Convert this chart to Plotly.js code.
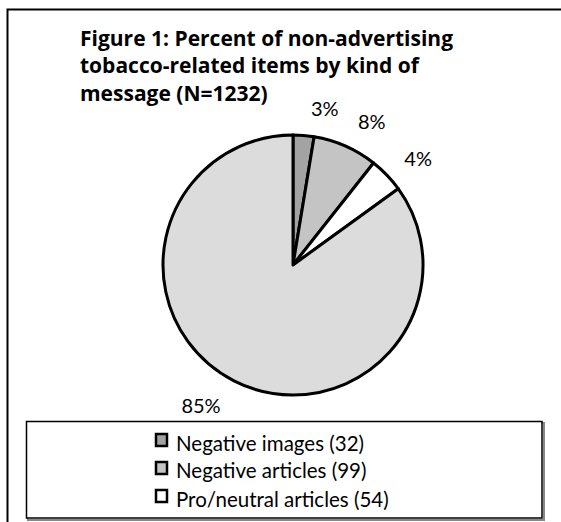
<!DOCTYPE html>
<html>
<head>
<meta charset="utf-8">
<script src="https://cdn.plot.ly/plotly-3.0.1.min.js"></script>
<style>
  html, body { margin: 0; padding: 0; background: #ffffff; overflow: hidden; }
  #chart { width: 561px; height: 522px; }
</style>
</head>
<body>
<div id="chart"></div>
<script>
// ---- data ----
const categories = ["Negative images", "Negative articles", "Pro/neutral articles", "Other items"];
const counts = [32, 99, 54, 1047];
const titleLines = ["Figure 1: Percent of non-advertising", "tobacco-related items by kind of", "message (N=1232)"];
const sliceColors = ["#a3a3a3", "#c4c4c4", "#ffffff", "#dcdcdc"];
const legendShown = 3; // only the first three entries are visible in the legend box

// ---- layout helpers (pixels -> paper) ----
const W = 561, H = 522;
const px = x => x / W;
const py = y => 1 - y / H;
const FONT = "Lato, 'Open Sans', sans-serif";
const CX = 293, CY = 265, R = 130, RT = 146;

// the drawn pie
const pieTrace = {
  type: "pie",
  labels: categories,
  values: counts,
  sort: false,
  direction: "clockwise",
  rotation: 0,
  marker: { colors: sliceColors, line: { color: "#000000", width: 3 } },
  textinfo: "none",
  domain: { x: [px(CX - R), px(CX + R)], y: [py(CY + R), py(CY - R)] },
  showlegend: false,
  hoverinfo: "label+value+percent"
};

// same data, slightly larger and transparent: carries the outside percent labels
// (split into two layers so neighbouring small-slice labels are not pushed apart)
function labelTrace(positions) {
  return {
    type: "pie",
    labels: categories,
    values: counts,
    sort: false,
    direction: "clockwise",
    rotation: 0,
    marker: { colors: categories.map(() => "rgba(0,0,0,0)"), line: { width: 0 } },
    texttemplate: "%{percent:.0%}",
    textposition: positions,
    textfont: { family: FONT, size: 20, color: "#000000" },
    domain: { x: [px(CX - RT), px(CX + RT)], y: [py(CY + RT), py(CY - RT)] },
    showlegend: false,
    hoverinfo: "skip"
  };
}
const labelsA = labelTrace(["outside", "none", "outside", "outside"]);
const labelsB = labelTrace(["none", "outside", "none", "none"]);

const shapes = [];
const annotations = [];

// outer frame (runs off the right and bottom of the picture)
shapes.push({ type: "rect", xref: "paper", yref: "paper", x0: px(7.5), x1: px(620), y0: py(9.5), y1: py(600),
  line: { color: "#000000", width: 2 }, fillcolor: "rgba(0,0,0,0)", layer: "below" });

// legend box with shadow
shapes.push({ type: "rect", xref: "paper", yref: "paper", x0: px(28), x1: px(544), y0: py(423), y1: py(520),
  line: { color: "#888888", width: 2 }, fillcolor: "rgba(0,0,0,0)" });
shapes.push({ type: "rect", xref: "paper", yref: "paper", x0: px(26.5), x1: px(542), y0: py(421.5), y1: py(518),
  line: { color: "#000000", width: 1.5 }, fillcolor: "#ffffff" });

const rowY = [440, 468, 496];
for (let i = 0; i < legendShown; i++) {
  const y = rowY[i];
  shapes.push({ type: "rect", xref: "paper", yref: "paper", x0: px(156), x1: px(167), y0: py(y - 6), y1: py(y + 6),
    line: { color: "#000000", width: 2.5 }, fillcolor: sliceColors[i] });
  annotations.push({ xref: "paper", yref: "paper", x: px(174), y: py(y + 2.5), xanchor: "left", yanchor: "middle",
    showarrow: false, text: categories[i] + " (" + counts[i] + ")",
    font: { family: FONT, size: 20.5, color: "#000000" } });
}

const layout = {
  width: W, height: H,
  margin: { l: 0, r: 0, t: 0, b: 0 },
  paper_bgcolor: "#ffffff",
  plot_bgcolor: "#ffffff",
  title: {
    text: "<b>" + titleLines.join("<br>") + "</b>",
    font: { family: "'Open Sans', Lato, sans-serif", size: 21, color: "#000000" },
    x: px(80), xanchor: "left", xref: "paper",
    y: py(46), yanchor: "top", yref: "container"
  },
  shapes: shapes,
  annotations: annotations
};

Plotly.newPlot("chart", [pieTrace, labelsA, labelsB], layout, { displayModeBar: false, staticPlot: true });
</script>
</body>
</html>
